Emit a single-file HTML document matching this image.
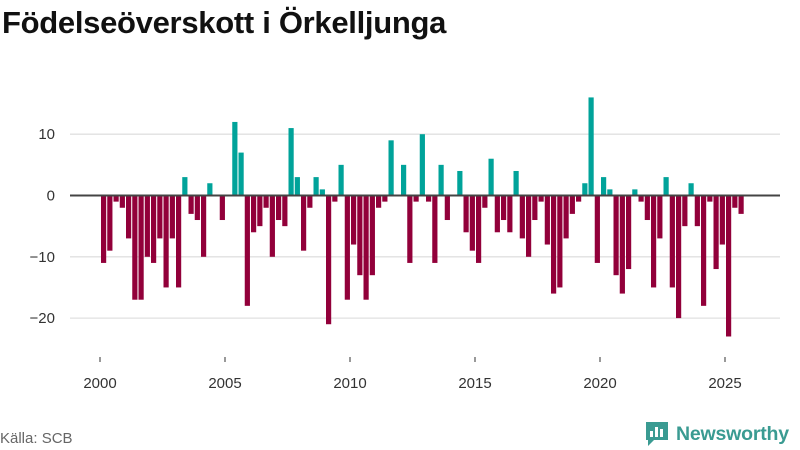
<!DOCTYPE html>
<html><head><meta charset="utf-8">
<style>
body{margin:0;background:#fff;font-family:"Liberation Sans","DejaVu Sans",sans-serif;}
#wrap{position:relative;width:800px;height:450px;overflow:hidden;}
h1{position:absolute;left:2px;top:5px;margin:0;font-size:31px;font-weight:bold;color:#111;letter-spacing:-0.3px}
.src{position:absolute;left:0;top:430px;font-size:15px;color:#666}
.logo{position:absolute;left:644px;top:420px;display:flex;align-items:center;gap:6px;font-size:19.5px;font-weight:bold;color:#3a9b92;letter-spacing:-0.2px}
</style></head><body>
<div id="wrap">
<h1>Födelseöverskott i Örkelljunga</h1>
<svg id="chart" width="800" height="450" style="position:absolute;left:0;top:0"></svg>
<div class="src">Källa: SCB</div>
<div class="logo">
<svg width="26" height="28" viewBox="0 0 26 28"><path d="M2 2h22v18H10l-6 6v-6H2z" fill="#3a9b92"/><rect x="6" y="11" width="3" height="6" fill="#fff"/><rect x="11" y="7" width="3" height="10" fill="#fff"/><rect x="16" y="9" width="3" height="8" fill="#fff"/></svg>
<span>Newsworthy</span></div>
</div>
<script>
const startYear = 2000;
const values = [-11,-9,-1,-2,-7,-17,-17,-10,-11,-7,-15,-7,-15,3,-3,-4,-10,2,0,-4,0,12,7,-18,-6,-5,-2,-10,-4,-5,11,3,-9,-2,3,1,
-21,-1,5,-17,-8,-13,-17,-13,-2,-1,9,0,5,-11,-1,10,-1,-11,5,-4,0,4,-6,-9,-11,-2,6,-6,-4,-6,4,-7,-10,-4,-1,-8,
-16,-15,-7,-3,-1,2,16,-11,3,1,-13,-16,-12,1,-1,-4,-15,-7,3,-15,-20,-5,2,-5,-18,-1,-12,-8,-23,-2,-3];
const yTicks = [10,0,-10,-20];
const xTicks = [2000,2005,2010,2015,2020,2025];
const svg = document.getElementById('chart');
const NS = 'http://www.w3.org/2000/svg';
const y = v => 195.5 - v*6.13;
const x = yr => 100 + (yr - startYear)*25;
function mk(tag, attrs){const e=document.createElementNS(NS,tag);for(const k in attrs)e.setAttribute(k,attrs[k]);svg.appendChild(e);return e;}
yTicks.forEach(t=>{
  if(t!==0){const g=mk('line',{x1:70,x2:780,y1:y(t),y2:y(t),stroke:'#e0e0e0','stroke-width':1.3});
  
  }
  const l=mk('text',{x:55,y:y(t)+5,'text-anchor':'end','font-size':15,fill:'#333'});
  l.textContent = t===0?'0':(t<0?'−'+Math.abs(t):t);
  
  
});
values.forEach((v,i)=>{
  const cx = x(startYear + i/4) + 1;
  const top = v>=0 ? y(v) : y(0);
  const h = Math.abs(y(v)-y(0));
  if(h===0) return;
  const r=mk('rect',{x:cx,y:top,width:5.2,height:h,fill:v>=0?'#00a39a':'#92003a'});
  
  
});
const z=mk('line',{x1:70,x2:780,y1:y(0),y2:y(0),stroke:'#444','stroke-width':2});


xTicks.forEach(t=>{
  const tk=mk('line',{x1:x(t),x2:x(t),y1:357,y2:362,stroke:'#333','stroke-width':1});
  
  
  const l=mk('text',{x:x(t),y:388,'text-anchor':'middle','font-size':15,fill:'#333'});
  l.textContent=t;
  
  
});
</script>
</body></html>
